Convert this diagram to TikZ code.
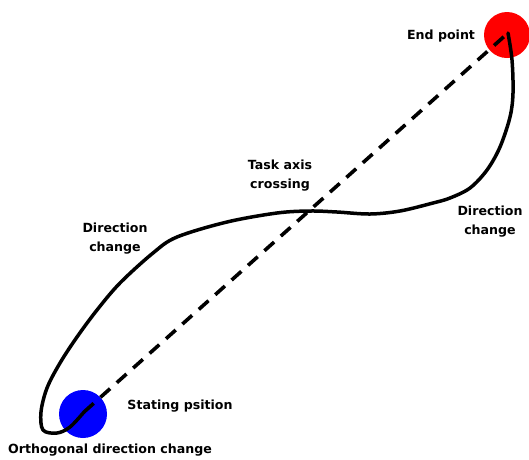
\documentclass[tikz,border=0pt]{standalone}
\usepackage{fontspec}
\setmainfont{DejaVu Sans}
\begin{document}
\begin{tikzpicture}[x=1pt,y=-1pt,
  lbl/.style={font=\bfseries\fontsize{12.6}{19}\selectfont, align=center, inner sep=0pt},
  path/.style={line width=3.5pt, line cap=round, line join=round},
  axis/.style={line width=3.6pt, dash pattern=on 13pt off 9pt}]
\useasboundingbox (0,0) rectangle (529,459);
\fill[red] (507,35) circle (23);
\fill[blue] (83,414) circle (24);
\coordinate (S) at (84,412);
\coordinate (E) at (508,33);
\draw[axis] (S) -- (E);
\draw[path] plot[smooth, tension=0.55] coordinates {
 (508,33) (512,60) (513,93) (510,117) (500,147) (487,170) (470,188) (450,198) (433,203) (400,211) (370,214) (337,212) (310,211) (277,213) (227,222) (177,237) (153,253) (120,283) (97,310) (77,337) (60,363) (47,388) (41,412) (43,430) (57,433) (70,427) (84,412)};
\node[lbl] (ep) at (441,36) {End point};
\node[lbl] (sp) at (180,406) {Stating psition};
\node[lbl] (od) at (110,450) {Orthogonal direction change};
\node[lbl] (tc) at (280,176) {Task axis\\crossing};
\node[lbl] (dl) at (115,239) {Direction\\change};
\node[lbl] (dr) at (490,222) {Direction\\change};
\end{tikzpicture}
\end{document}
